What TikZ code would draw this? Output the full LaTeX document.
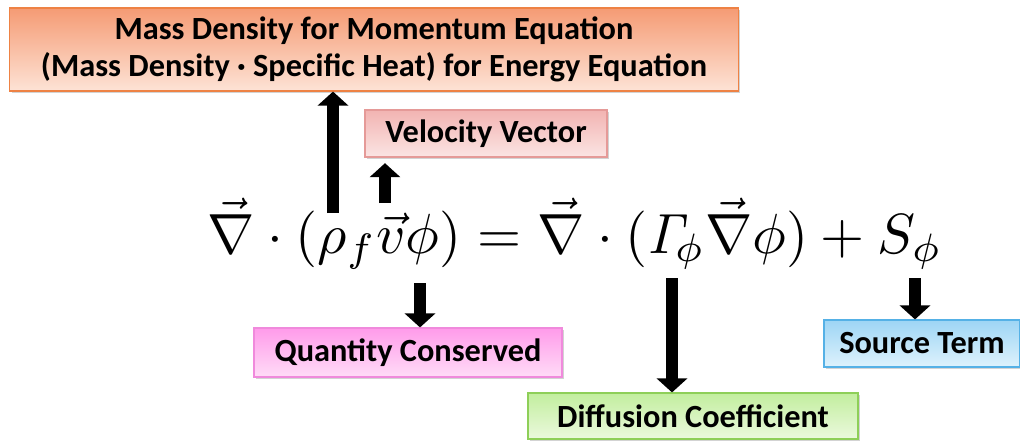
\documentclass[tikz,border=0pt]{standalone}
\usepackage{amsmath}
\usepackage[no-math]{fontspec}
\setmainfont{Carlito}
\usepackage{tikz}
\usetikzlibrary{arrows.meta, positioning, shadows}

\definecolor{massTop}{HTML}{F59B74}
\definecolor{massBot}{HTML}{FDE3D6}
\definecolor{massLine}{HTML}{EE8244}
\definecolor{velTop}{HTML}{F2B4B2}
\definecolor{velBot}{HTML}{FBE4E3}
\definecolor{velLine}{HTML}{E59A98}
\definecolor{qtyTop}{HTML}{FF9BEA}
\definecolor{qtyBot}{HTML}{FFDCF7}
\definecolor{qtyLine}{HTML}{F08ADC}
\definecolor{difTop}{HTML}{C2EE9E}
\definecolor{difBot}{HTML}{EBF9DD}
\definecolor{difLine}{HTML}{8ECF58}
\definecolor{srcTop}{HTML}{9DD5F5}
\definecolor{srcBot}{HTML}{DEF2FC}
\definecolor{srcLine}{HTML}{55B1E6}

\tikzset{
  termbox/.style 2 args={draw=#1Line, thick, rectangle, inner sep=0pt,
    top color=#1Top, bottom color=#1Bot, text=black,
    font=\fontsize{23}{26}\selectfont\bfseries,
    drop shadow={shadow xshift=1.5pt, shadow yshift=-1.5pt, opacity=0.35},
    minimum width=#2},
  blockarrow/.style={line width=0.3cm, -{Triangle[length=0.35cm, width=0.75cm]}}
}

\begin{document}
\begin{tikzpicture}[x=0.025cm, y=0.025cm]
  \useasboundingbox (0,0) rectangle (1020,-441);

  % the equation
  \node[anchor=base, inner sep=0pt] (eq) at (575,-253)
    {\resizebox{18.35cm}{!}{$\vec{\nabla}\cdot(\rho_f\vec{v}\phi)
      =\vec{\nabla}\cdot(\mathit{\Gamma}_{\!\phi}\vec{\nabla}\phi)+S_\phi$}};

  % labels
  \node[termbox={mass}{18.2cm}, minimum height=2.075cm, align=center] (massbox) at (374,-49.5)
    {Mass Density for Momentum Equation\\
     (Mass Density · Specific Heat) for Energy Equation};
  \node[termbox={vel}{6.05cm}, minimum height=1.175cm] (velbox) at (486,-133.5) {Velocity Vector};
  \node[termbox={qty}{7.7cm}, minimum height=1.225cm] (qtybox) at (408,-352.5) {Quantity Conserved};
  \node[termbox={dif}{8.25cm}, minimum height=1.15cm] (difbox) at (693,-416) {Diffusion Coefficient};
  \node[termbox={src}{4.9cm}, minimum height=1.175cm] (srcbox) at (922,-343.5) {Source Term};

  % arrow ends on the equation
  \coordinate (rho) at (333,-213);
  \coordinate (vel) at (385,-203);
  \coordinate (phi) at (420,-283);
  \coordinate (gam) at (672,-278);
  \coordinate (src) at (915,-278);

  \draw[blockarrow] (rho) -- (rho |- massbox.south);
  \draw[blockarrow, shorten >=4pt] (vel) -- (vel |- velbox.south);
  \draw[blockarrow] (phi) -- (phi |- qtybox.north);
  \draw[blockarrow] (gam) -- (gam |- difbox.north);
  \draw[blockarrow] (src) -- (src |- srcbox.north);
\end{tikzpicture}
\end{document}
